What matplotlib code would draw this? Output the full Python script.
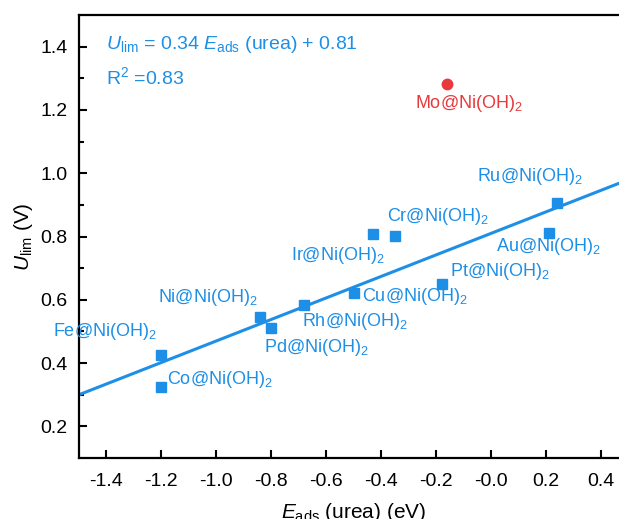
import numpy as np
import matplotlib
matplotlib.use("Agg")
import matplotlib.pyplot as plt

plt.rcParams['font.family'] = ['Liberation Sans', 'DejaVu Sans']
plt.rcParams['mathtext.fontset'] = 'custom'
plt.rcParams['mathtext.rm'] = 'Liberation Sans'
plt.rcParams['mathtext.it'] = 'Liberation Sans:italic'

# data
names = ['Fe', 'Co', 'Ni', 'Pd', 'Rh', 'Cu', 'Ir', 'Cr', 'Pt', 'Au', 'Ru']
e_ads = [-1.20, -1.20, -0.84, -0.80, -0.68, -0.50, -0.43, -0.35, -0.18, 0.21, 0.24]
u_lim = [0.424, 0.323, 0.547, 0.512, 0.585, 0.620, 0.809, 0.803, 0.651, 0.812, 0.907]
mo_e, mo_u = -0.16, 1.282
slope, intercept = 0.34, 0.81

# label offsets in points (dx, dy) from each point
offsets = [(-78, 17), (4, 6), (-74, 14), (-5, -14), (-2, -12), (6, -2),
           (-59, -16), (-6, 14), (6, 9), (-38, -10), (-58, 19)]

blue = '#1E8FE6'
red = '#E8393B'

fig = plt.figure(figsize=(6.19, 5.19), dpi=100)
ax = fig.add_axes([0.1276, 0.1175, 0.8878, 0.8536])

xl = np.array([-1.5, 0.5])
ax.plot(xl, slope * xl + intercept, color=blue, lw=2.2, zorder=2)
ax.plot(e_ads, u_lim, 's', color=blue, ms=7, zorder=3)
ax.plot([mo_e], [mo_u], 'o', color=red, ms=7.5, zorder=3)

for n, x, y, (dx, dy) in zip(names, e_ads, u_lim, offsets):
    ax.annotate(n + r'@Ni(OH)$_2$', (x, y), xytext=(dx, dy), textcoords='offset points',
                ha='left', va='center', color=blue, fontsize=13)
ax.annotate(r'Mo@Ni(OH)$_2$', (mo_e, mo_u), xytext=(-23, -14), textcoords='offset points',
            ha='left', va='center', color=red, fontsize=13)

ax.text(-1.4, 1.408, r'$U_{\rm lim}$ = 0.34 $E_{\rm ads}$ (urea) + 0.81', color=blue,
        fontsize=14, ha='left', va='center')
ax.text(-1.4, 1.304, r'R$^2$ =0.83', color=blue, fontsize=14, ha='left', va='center')

ax.set_xlim(-1.5, 0.5)
ax.set_ylim(0.1, 1.5)
ax.set_xticks(np.arange(-1.4, 0.41, 0.2))
ax.set_xticklabels(['%.1f' % v for v in np.arange(-1.4, 0.41, 0.2)])
ax.set_yticks(np.arange(0.2, 1.41, 0.2))
ax.set_yticks(np.arange(0.3, 1.41, 0.2), minor=True)
ax.tick_params(direction='in', length=6, width=1.5, labelsize=14, pad=8)
ax.tick_params(axis='x', pad=11)
ax.tick_params(which='minor', direction='in', length=3.5, width=1.5)
for s in ax.spines.values():
    s.set_linewidth(1.6)

ax.set_xlabel(r'$E_{\rm ads}$ (urea) (eV)', fontsize=15, labelpad=8)
ax.set_ylabel(r'$U_{\rm lim}$ (V)', fontsize=15, labelpad=4)

fig.savefig('out.png', dpi=100)
